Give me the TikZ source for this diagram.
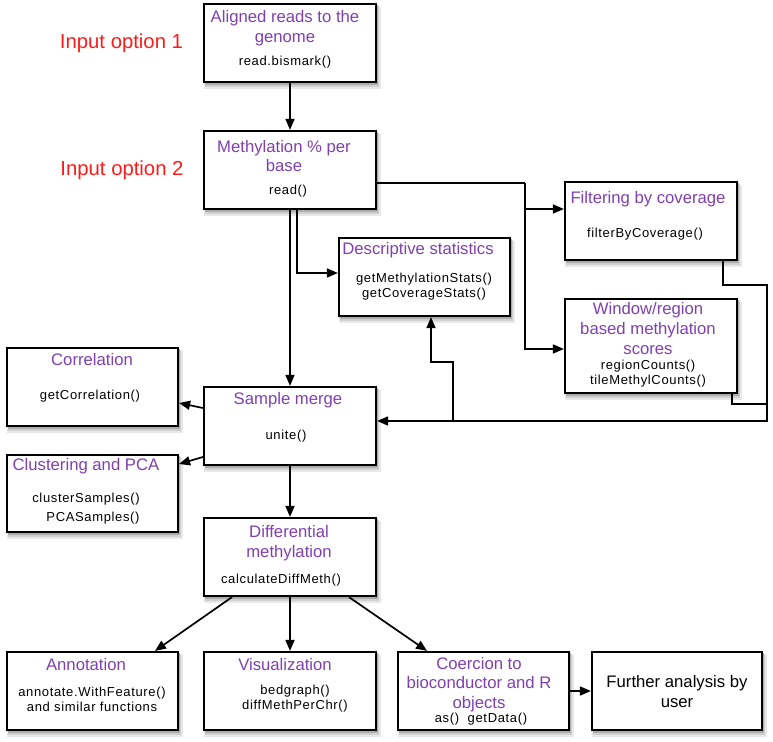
\documentclass[tikz,border=0pt]{standalone}
\usepackage{fontspec}
\setmainfont{Liberation Sans}
\newfontfamily\codefont[LetterSpace=5]{Liberation Sans}
\usetikzlibrary{arrows.meta}
\definecolor{ttlpurple}{RGB}{128,64,176}
\definecolor{optred}{RGB}{255,26,26}
\definecolor{shadeA}{RGB}{232,232,232}
\definecolor{shadeB}{RGB}{208,208,208}
\definecolor{shadeC}{RGB}{172,172,172}
% soft drop shadow under a box: centre x, centre y, width, height
\newcommand\castshadow[4]{%
  \fill[shadeA] ({#1-#3/2},{#2-#4/2+3}) rectangle ({#1+#3/2+4.5},{#2+#4/2+7});
  \fill[shadeB] ({#1-#3/2+0.5},{#2-#4/2+2}) rectangle ({#1+#3/2+3.2},{#2+#4/2+5});
  \fill[shadeC] ({#1-#3/2+1},{#2-#4/2+1}) rectangle ({#1+#3/2+2.2},{#2+#4/2+3});
}
\begin{document}
\begin{tikzpicture}[x=1pt,y=-1pt,
  box/.style={draw=black,line width=2.2pt,fill=white,minimum width=172pt,minimum height=78pt,inner sep=0pt},
  ttl/.style={text=ttlpurple,font=\fontsize{16.7}{19.6}\selectfont,align=center,inner sep=0pt},
  code/.style={text=black,font=\codefont\fontsize{13}{15}\selectfont,align=center,inner sep=0pt},
  plain/.style={text=black,font=\fontsize{16.7}{19.6}\selectfont,align=center,inner sep=0pt},
  opt/.style={text=optred,font=\fontsize{20.3}{24}\selectfont,inner sep=0pt},
  link/.style={line width=1.7pt,draw=black},
  arr/.style={link,-{Triangle[length=11pt,width=9pt]}}]
\useasboundingbox (0,0) rectangle (773,741);

% ---- shadows ----
\castshadow{290}{43}{172}{78}
\castshadow{290}{170}{172}{78}
\castshadow{424.5}{277}{171}{78}
\castshadow{651}{221}{172}{78}
\castshadow{651}{346}{172}{94}
\castshadow{92.5}{387}{171}{78}
\castshadow{290}{426}{172}{78}
\castshadow{92.5}{493.5}{171}{77}
\castshadow{290}{557}{172}{78}
\castshadow{92.5}{691}{171}{78}
\castshadow{290}{691}{172}{78}
\castshadow{483.5}{691}{171}{78}
\castshadow{677}{691}{170}{78}

% ---- boxes ----
\node[box] (aln)   at (290,43)    {};
\node[box] (meth)  at (290,170)   {};
\node[box,minimum width=171pt] (desc) at (424.5,277) {};
\node[box] (filt)  at (651,221)   {};
\node[box,minimum height=94pt] (win) at (651,346) {};
\node[box,minimum width=171pt] (corr) at (92.5,387) {};
\node[box] (merge) at (290,426)   {};
\node[box,minimum width=171pt,minimum height=77pt] (clus) at (92.5,493.5) {};
\node[box] (diff)  at (290,557)   {};
\node[box,minimum width=171pt] (anno) at (92.5,691) {};
\node[box] (vis)   at (290,691)   {};
\node[box,minimum width=171pt] (coer) at (483.5,691) {};
\node[box,minimum width=170pt] (fur)  at (677,691) {};

% ---- box texts ----
\node[ttl]  (alnT)   at (285,28)  {Aligned reads to the\\genome};
\node[code] (alnC)   at (285,62)  {read.bismark()};
\node[ttl]  (methT)  at (284,156) {Methylation \% per\\base};
\node[code] (methC)  at (288,191) {read()};
\node[ttl]  (descT)  at (418,250) {Descriptive statistics};
\node[code] (descC)  at (424,286.5) {getMethylationStats()\\getCoverageStats()};
\node[ttl]  (filtT)  at (648,199) {Filtering by coverage};
\node[code] (filtC)  at (645,234) {filterByCoverage()};
\node[ttl]  (winT)   at (648,328.5) {Window/region\\based methylation\\scores};
\node[code] (winC)   at (648,373.5) {regionCounts()\\tileMethylCounts()};
\node[ttl]  (corrT)  at (92,360)  {Correlation};
\node[code] (corrC)  at (90,396)  {getCorrelation()};
\node[ttl]  (mergeT) at (288,400) {Sample merge};
\node[code] (mergeC) at (286,436) {unite()};
\node[ttl]  (clusT)  at (86,466)  {Clustering and PCA};
\node[code] (clusC1) at (86,499)  {clusterSamples()};
\node[code] (clusC2) at (93,518)  {PCASamples()};
\node[ttl]  (diffT)  at (289,543) {Differential\\methylation};
\node[code] (diffC)  at (281,580) {calculateDiffMeth()};
\node[ttl]  (annoT)  at (86,665)  {Annotation};
\node[code] (annoC)  at (92,699.5) {annotate.WithFeature()\\and similar functions};
\node[ttl]  (visT)   at (285,665) {Visualization};
\node[code] (visC)   at (295,699)  {bedgraph()\\diffMethPerChr()};
\node[ttl]  (coerT)  at (479,684.5) {Coercion to\\bioconductor and R\\objects};
\node[code] (coerC)  at (481,719) {as()~~getData()};
\node[plain] (furT)  at (677,691.5) {Further analysis by\\user};

% ---- input labels ----
\node[opt] (opt1) at (121.5,43)  {Input option 1};
\node[opt] (opt2) at (122,170)   {Input option 2};

% ---- junction points ----
\coordinate (jr)    at (525,183);
\coordinate (fb)    at (767,285);
\coordinate (wb)    at (767,404);
\coordinate (rail)  at (767,421);
\coordinate (tap)   at (453,421);
\coordinate (kink)  at (431,362);

% ---- connectors ----
\draw[arr] (aln) -- (meth);
\draw[arr] (meth.south) -- (merge.north);
\draw[arr] ([xshift=7pt]meth.south) |- ([yshift=4pt]desc.west);
\draw[link] ([yshift=-13pt]meth.east) -- (jr);
\draw[arr] (jr) |- ([yshift=12pt]filt.west);
\draw[arr] (jr) |- ([yshift=-3pt]win.west);
\draw[arr] ([xshift=72pt]filt.south) |- (fb) -- (rail) -- ([yshift=5pt]merge.east);
\draw[link] ([xshift=81pt]win.south) |- (wb);
\draw[arr] (tap) |- (kink) -- (kink |- desc.south);
\draw[arr] ([yshift=18pt]merge.west) -- ([yshift=-16pt]corr.east);
\draw[arr] ([yshift=-31pt]merge.west) -- ([yshift=29.5pt]clus.east);
\draw[arr] (merge) -- (diff);
\draw[arr] ([xshift=-58pt]diff.south) -- ([xshift=62.5pt]anno.north);
\draw[arr] (diff) -- (vis);
\draw[arr] ([xshift=59pt]diff.south) -- ([xshift=-56.5pt]coer.north);
\draw[arr] (coer) -- (fur);
\end{tikzpicture}
\end{document}
